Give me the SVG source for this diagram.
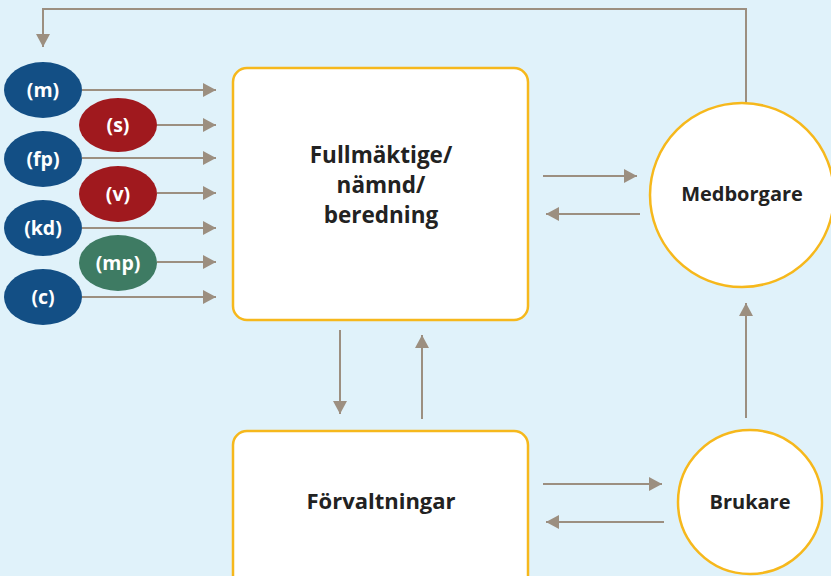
<svg xmlns="http://www.w3.org/2000/svg" width="831" height="576" viewBox="0 0 831 576">
<defs>
<marker id="ah" markerWidth="14" markerHeight="14" refX="13" refY="7" orient="auto" markerUnits="userSpaceOnUse">
<path d="M0,0 L13,7 L0,14 Z" fill="#9c8f80"/>
</marker>
<style>
.bg{fill:#e0f2fa}
.box{fill:#fff;stroke:#f6b81c;stroke-width:2.5}
.ln{fill:none;stroke:#9c8f80;stroke-width:2}
.lbl{font-family:"Open Sans","Liberation Sans",sans-serif;font-weight:bold;fill:#222;text-anchor:middle}
.el{font-family:"Open Sans","Liberation Sans",sans-serif;font-weight:bold;fill:#fff;text-anchor:middle;font-size:19.5px}
.blue{fill:#134f85}.red{fill:#a0191e}.green{fill:#3e7b63}
</style>
</defs>
<rect class="bg" x="0" y="0" width="831" height="576"/>
<g id="connectors">
<path class="ln" d="M746,103 V9 H43 V47" marker-end="url(#ah)"/>
<path class="ln" d="M82,90 H216" marker-end="url(#ah)"/>
<path class="ln" d="M157,125 H216" marker-end="url(#ah)"/>
<path class="ln" d="M82,158 H216" marker-end="url(#ah)"/>
<path class="ln" d="M157,193 H216" marker-end="url(#ah)"/>
<path class="ln" d="M82,228 H216" marker-end="url(#ah)"/>
<path class="ln" d="M157,262 H216" marker-end="url(#ah)"/>
<path class="ln" d="M82,297 H216" marker-end="url(#ah)"/>
<path class="ln" d="M543,176 H637" marker-end="url(#ah)"/>
<path class="ln" d="M640,214 H546" marker-end="url(#ah)"/>
<path class="ln" d="M543,484 H662" marker-end="url(#ah)"/>
<path class="ln" d="M664,522 H546" marker-end="url(#ah)"/>
<path class="ln" d="M340,330 V414" marker-end="url(#ah)"/>
<path class="ln" d="M422,419 V335" marker-end="url(#ah)"/>
<path class="ln" d="M746,418 V303" marker-end="url(#ah)"/>
</g>
<g id="m"><ellipse class="blue" cx="43" cy="90" rx="39" ry="28"/><text class="el" x="43" y="97">(m)</text></g>
<g id="s"><ellipse class="red" cx="118" cy="125" rx="39" ry="27"/><text class="el" x="118" y="132">(s)</text></g>
<g id="fp"><ellipse class="blue" cx="43" cy="159" rx="39" ry="28"/><text class="el" x="43" y="166">(fp)</text></g>
<g id="v"><ellipse class="red" cx="118" cy="194" rx="39" ry="28"/><text class="el" x="118" y="201">(v)</text></g>
<g id="kd"><ellipse class="blue" cx="43" cy="228" rx="39" ry="28"/><text class="el" x="43" y="235">(kd)</text></g>
<g id="mp"><ellipse class="green" cx="118" cy="263" rx="39" ry="28"/><text class="el" x="118" y="270">(mp)</text></g>
<g id="c"><ellipse class="blue" cx="43" cy="297" rx="39" ry="28"/><text class="el" x="43" y="304">(c)</text></g>
<g id="fullmaktige"><rect class="box" x="233" y="68" width="295" height="252" rx="14"/>
<text class="lbl" font-size="22.5" x="381" y="163">Fullmäktige/</text>
<text class="lbl" font-size="22.5" x="381" y="193">nämnd/</text>
<text class="lbl" font-size="22.5" x="381" y="223">beredning</text></g>
<g id="forvaltningar"><rect class="box" x="233" y="431" width="295" height="160" rx="14"/>
<text class="lbl" font-size="22" x="381" y="509">Förvaltningar</text></g>
<g id="medborgare"><circle class="box" cx="742" cy="195" r="92"/>
<text class="lbl" font-size="20" x="742" y="201">Medborgare</text></g>
<g id="brukare"><circle class="box" cx="750" cy="502" r="72"/>
<text class="lbl" font-size="20" x="750" y="509">Brukare</text></g>
</svg>
